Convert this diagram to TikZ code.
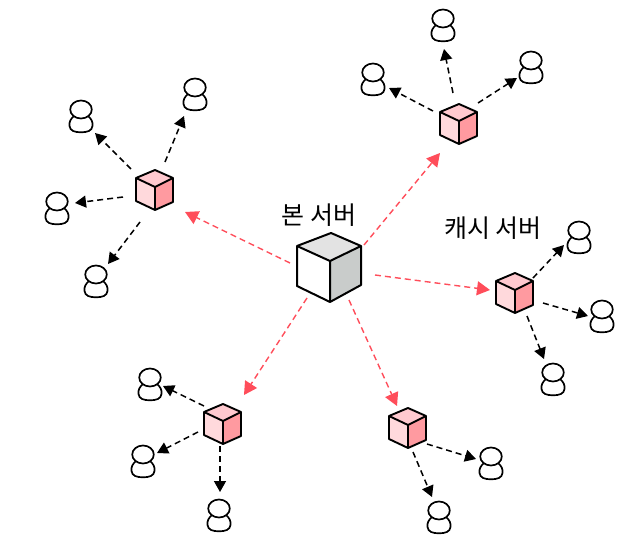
\documentclass[tikz,border=0pt]{standalone}
\usepackage{fontspec}
\newfontfamily\krfont{Noto Sans CJK KR}
\usetikzlibrary{arrows.meta}
\definecolor{redline}{HTML}{FF4D5A}
\definecolor{ctop}{HTML}{FFC9CF}
\definecolor{cleft}{HTML}{FFD9DC}
\definecolor{cright}{HTML}{FF9AA0}
\definecolor{stop}{HTML}{E3E3E3}
\definecolor{sright}{HTML}{C9CCCB}
\tikzset{
  anchorpt/.style={shape=coordinate},
  redlink/.style={draw=redline,line width=1.4pt,dash pattern=on 6pt off 4pt,-{Triangle[length=13pt,width=14pt,fill=redline]}},
  blacklink/.style={draw=black,line width=1.5pt,dash pattern=on 6pt off 4pt,-{Triangle[length=11pt,width=12pt,fill=black]}},
  edge/.style={draw=black,line width=1.9pt,line join=round},
  personline/.style={draw=black,line width=1.7pt,fill=white},
  lbl/.style={font=\krfont\fontsize{25}{27}\selectfont,inner sep=0pt,text=black}
}
\newcommand{\smallcube}[2]{%
  \begin{scope}[shift={(#1,#2)}]
    \path[fill=ctop] (0,-20)--(18,-12)--(0,-3)--(-19,-12)--cycle;
    \path[fill=cleft] (-19,-12)--(0,-3)--(0,20)--(-19,11)--cycle;
    \path[fill=cright] (18,-12)--(0,-3)--(0,20)--(18,12)--cycle;
    \draw[edge] (0,-20)--(18,-12)--(18,12)--(0,20)--(-19,11)--(-19,-12)--cycle;
    \draw[edge] (-19,-12)--(0,-3)--(18,-12) (0,-3)--(0,20);
  \end{scope}}
\newcommand{\person}[2]{%
  \begin{scope}[shift={(#1,#2)}]
    \draw[personline] (-7,0) .. controls (-10.5,3) and (-12,6) .. (-11.5,10)
      .. controls (-11,15) and (-6,16.3) .. (0,16.3)
      .. controls (6,16.3) and (11,15) .. (11.5,10)
      .. controls (12,6) and (10.5,3) .. (7,0) -- cycle;
    \draw[personline] (0,-6.5) ellipse [x radius=10.8,y radius=9];
  \end{scope}}
\begin{document}
\begin{tikzpicture}[x=1pt,y=-1pt]
\useasboundingbox (0,0) rectangle (640,553);
% hubs
\node[anchorpt] (srv) at (330,267) {};
\node[anchorpt] (ca) at (155,190) {};
\node[anchorpt] (cb) at (459,124) {};
\node[anchorpt] (cc) at (515,293) {};
\node[anchorpt] (cd) at (223,424) {};
\node[anchorpt] (ce) at (408,428) {};
% clients
\node[anchorpt] (p1) at (81,116) {};
\node[anchorpt] (p2) at (195,94) {};
\node[anchorpt] (p3) at (57,208) {};
\node[anchorpt] (p4) at (96,281) {};
\node[anchorpt] (p5) at (443,25) {};
\node[anchorpt] (p6) at (373,79) {};
\node[anchorpt] (p7) at (531,67) {};
\node[anchorpt] (p8) at (579,237) {};
\node[anchorpt] (p9) at (602,316) {};
\node[anchorpt] (p10) at (553,379) {};
\node[anchorpt] (p11) at (150,384) {};
\node[anchorpt] (p12) at (143,461) {};
\node[anchorpt] (p13) at (219,515) {};
\node[anchorpt] (p14) at (491,463) {};
\node[anchorpt] (p15) at (439,517) {};
% server cube
\path[fill=stop] (331,233)--(361,246)--(330,261)--(297,246)--cycle;
\path[fill=white] (297,246)--(330,261)--(330,302)--(297,286)--cycle;
\path[fill=sright] (361,246)--(330,261)--(330,302)--(361,285)--cycle;
\draw[edge,line width=2pt] (331,233)--(361,246)--(361,285)--(330,302)--(297,286)--(297,246)--cycle;
\draw[edge,line width=2pt] (297,246)--(330,261)--(361,246) (330,261)--(330,302);
% small cubes
\smallcube{155}{190}
\smallcube{459}{124}
\smallcube{515}{293}
\smallcube{223}{424}
\smallcube{408}{428}
% persons
\person{81}{116}\person{195}{94}\person{57}{208}\person{96}{281}
\person{443}{25}\person{373}{79}\person{531}{67}
\person{579}{237}\person{602}{316}\person{553}{379}
\person{150}{384}\person{143}{461}\person{219}{515}
\person{491}{463}\person{439}{517}
% red links
\draw[redlink] ([shift={(34,-22)}]srv.center) -- ([shift={(-19,29)}]cb.center);
\draw[redlink] ([shift={(-40,-4)}]srv.center) -- ([shift={(30,22)}]ca.center);
\draw[redlink] ([shift={(45,8)}]srv.center) -- ([shift={(-25,-3)}]cc.center);
\draw[redlink] ([shift={(19,33)}]srv.center) -- ([shift={(-11,-22)}]ce.center);
\draw[redlink] ([shift={(-23,31)}]srv.center) -- ([shift={(21,-29)}]cd.center);
% black links
\draw[blacklink] ([shift={(-24,-21)}]ca.center) -- ([shift={(14,17)}]p1.center);
\draw[blacklink] ([shift={(10,-28)}]ca.center) -- ([shift={(-11,22)}]p2.center);
\draw[blacklink] ([shift={(-32,7)}]ca.center) -- ([shift={(18,-5)}]p3.center);
\draw[blacklink] ([shift={(-15,32)}]ca.center) -- ([shift={(12,-17)}]p4.center);
\draw[blacklink] ([shift={(-6,-31)}]cb.center) -- ([shift={(1,24)}]p5.center);
\draw[blacklink] ([shift={(-26,-13)}]cb.center) -- ([shift={(16,9)}]p6.center);
\draw[blacklink] ([shift={(19,-21)}]cb.center) -- ([shift={(-14,11)}]p7.center);
\draw[blacklink] ([shift={(18,-15)}]cc.center) -- ([shift={(-15,8)}]p8.center);
\draw[blacklink] ([shift={(28,10)}]cc.center) -- ([shift={(-14,0)}]p9.center);
\draw[blacklink] ([shift={(12,23)}]cc.center) -- ([shift={(-9,-20)}]p10.center);
\draw[blacklink] ([shift={(-19,-18)}]cd.center) -- ([shift={(13,2)}]p11.center);
\draw[blacklink] ([shift={(-25,8)}]cd.center) -- ([shift={(14,-8)}]p12.center);
\draw[blacklink] ([shift={(-3,22)}]cd.center) -- ([shift={(1,-23)}]p13.center);
\draw[blacklink] ([shift={(19,16)}]ce.center) -- ([shift={(-15,-4)}]p14.center);
\draw[blacklink] ([shift={(5,24)}]ce.center) -- ([shift={(-7,-20)}]p15.center);
% labels
\node[lbl] (bon) at (319,215) {본 서버};
\node[lbl] (cache) at (493,228) {캐시 서버};
\end{tikzpicture}
\end{document}
